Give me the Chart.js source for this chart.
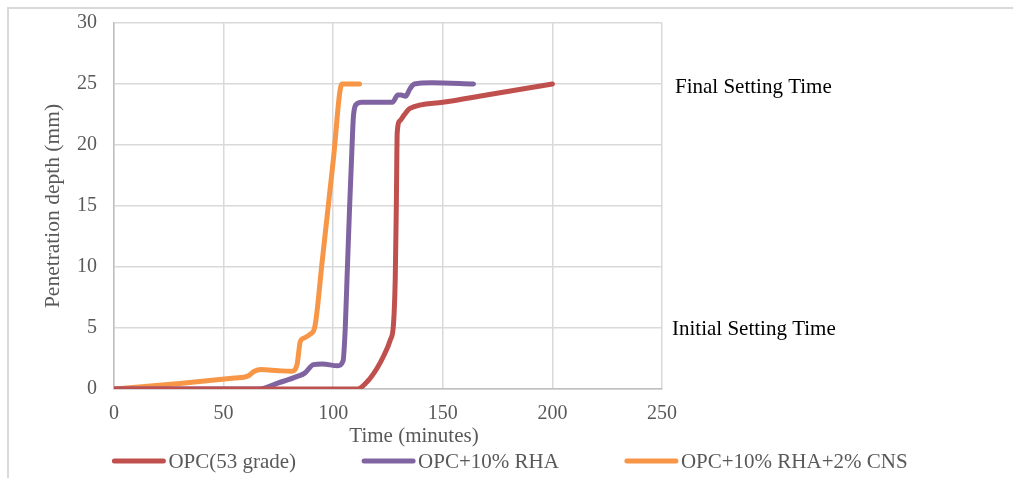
<!DOCTYPE html>
<html>
<head>
<meta charset="utf-8">
<script src="https://cdn.jsdelivr.net/npm/chart.js@4.4.1/dist/chart.umd.min.js"></script>
<style>
  html, body { margin: 0; padding: 0; background: #fff; }
  #wrap { position: relative; width: 1014px; height: 478px; }
</style>
</head>
<body>
<div id="wrap"><canvas id="chart" width="1014" height="478"></canvas></div>
<script>
// series labels
const seriesNames = ["OPC(53 grade)", "OPC+10% RHA", "OPC+10% RHA+2% CNS"];
const seriesColors = ["#C0504D", "#8064A2", "#F79646"];

// OPC(53 grade) - time (min) / penetration (mm)
const opcTime  = [0, 111, 116, 120, 123, 126, 127.5, 128.3, 128.8, 129.2, 130.5, 132.5, 135, 150, 170, 200];
const opcDepth = [0, 0, 0.7, 1.7, 2.7, 4, 5.3, 9, 15, 21, 22, 22.5, 23, 23.5, 24.1, 25];

// OPC+10% RHA
const rhaTime  = [0, 66, 75, 84, 87, 91, 95, 102, 104.5, 105.5, 106.3, 107.5, 108.4, 109.3, 111, 113, 120, 127, 129.5, 131, 133, 135, 137, 145, 164];
const rhaDepth = [0, 0, 0.5, 1.05, 1.3, 2, 2.05, 1.9, 2.3, 5, 9, 15, 19, 22.5, 23.4, 23.5, 23.5, 23.5, 24.1, 24.1, 24, 24.6, 25, 25.1, 25];

// OPC+10% RHA+2% CNS
const cnsTime  = [0, 30, 55, 61, 64, 67, 75, 81, 83.5, 85, 87, 89.5, 91.5, 95, 100, 104, 106, 112];
const cnsDepth = [0, 0.45, 0.9, 1.05, 1.45, 1.6, 1.5, 1.45, 2, 3.9, 4.2, 4.5, 5, 10.5, 18.7, 25, 25, 25];

// axis ticks
const xTicks = [0, 50, 100, 150, 200, 250];
const yTicks = [0, 5, 10, 15, 20, 25, 30];

const xTitle = "Time (minutes)";
const yTitle = "Penetration depth (mm)";

// side notes
const notes = [
  { text: "Final Setting Time", y: 25, x: 675, dy: 3 },
  { text: "Initial Setting Time", y: 5, x: 672, dy: 1 }
];

const FONT = "'Liberation Serif', 'Times New Roman', serif";

function toPoints(xs, ys) {
  return xs.map(function(x, i) { return { x: x, y: ys[i] }; });
}

const allSeries = [[opcTime, opcDepth], [rhaTime, rhaDepth], [cnsTime, cnsDepth]];

const datasets = allSeries.map(function(s, i) {
  return {
    label: seriesNames[i],
    data: toPoints(s[0], s[1]),
    borderColor: seriesColors[i],
    backgroundColor: seriesColors[i],
    borderWidth: 5,
    borderCapStyle: "round",
    borderJoinStyle: "round",
    pointRadius: 0,
    showLine: true,
    cubicInterpolationMode: "monotone"
  };
});

// frame, notes, x title and legend drawn by hand
const extrasPlugin = {
  id: "extras",
  beforeDraw: function(chart) {
    const ctx = chart.ctx;
    ctx.save();
    ctx.strokeStyle = "#D9D9D9";
    ctx.lineWidth = 2;
    ctx.beginPath();
    ctx.moveTo(8, 478);
    ctx.lineTo(8, 8);
    ctx.lineTo(1013, 8);
    ctx.stroke();
    ctx.restore();
  },
  afterDraw: function(chart) {
    const ctx = chart.ctx;
    const yScale = chart.scales.y;
    ctx.save();
    ctx.font = "21px " + FONT;
    ctx.fillStyle = "#000";
    ctx.textBaseline = "middle";
    ctx.textAlign = "left";
    notes.forEach(function(n) {
      ctx.fillText(n.text, n.x, yScale.getPixelForValue(n.y) + n.dy);
    });

    // x axis title
    ctx.fillStyle = "#595959";
    ctx.textAlign = "center";
    ctx.fillText(xTitle, 414, 436);
    ctx.textAlign = "left";

    // legend
    const sample = 53, gap = 3, spacing = 66;
    const widths = chart.data.datasets.map(function(d) {
      return sample + gap + ctx.measureText(d.label).width;
    });
    const total = widths.reduce(function(a, b) { return a + b; }, 0) + spacing * (widths.length - 1);
    let x = 510 - total / 2;
    const ly = 461;
    chart.data.datasets.forEach(function(d, i) {
      ctx.strokeStyle = d.borderColor;
      ctx.lineWidth = 5;
      ctx.lineCap = "round";
      ctx.beginPath();
      ctx.moveTo(x + 2, ly);
      ctx.lineTo(x + sample - 2, ly);
      ctx.stroke();
      ctx.fillStyle = "#595959";
      ctx.fillText(d.label, x + sample + gap, ly + 1);
      x += widths[i] + spacing;
    });
    ctx.restore();
  }
};

new Chart(document.getElementById("chart"), {
  type: "scatter",
  data: { datasets: datasets },
  options: {
    responsive: false,
    animation: false,
    layout: { padding: { left: 8, right: 352, top: 23, bottom: 28 } },
    plugins: {
      legend: { display: false },
      tooltip: { enabled: false }
    },
    scales: {
      x: {
        type: "linear",
        min: 0,
        max: 250,
        afterBuildTicks: function(scale) {
          scale.ticks = xTicks.map(function(v) { return { value: v }; });
        },
        afterFit: function(scale) {
          scale.height = 61;
          scale.paddingLeft = 0;
          scale.paddingRight = 0;
        },
        grid: { color: "#D9D9D9", lineWidth: 1.5, drawTicks: false },
        border: { color: "#BFBFBF", width: 1.5 },
        ticks: { padding: 13, color: "#595959", font: { family: FONT, size: 20 }, maxRotation: 0 }
      },
      y: {
        type: "linear",
        min: 0,
        max: 30,
        afterBuildTicks: function(scale) {
          scale.ticks = yTicks.map(function(v) { return { value: v }; });
        },
        afterFit: function(scale) {
          scale.width = 106;
          scale.paddingTop = 0;
          scale.paddingBottom = 0;
        },
        grid: { color: "#D9D9D9", lineWidth: 1.5, drawTicks: false },
        border: { color: "#BFBFBF", width: 1.5 },
        ticks: { padding: 17, color: "#595959", font: { family: FONT, size: 20 } },
        title: {
          display: true,
          text: yTitle,
          color: "#595959",
          font: { family: FONT, size: 21.5 },
          padding: { top: 32, bottom: 0 }
        }
      }
    }
  },
  plugins: [extrasPlugin]
});
</script>
</body>
</html>
